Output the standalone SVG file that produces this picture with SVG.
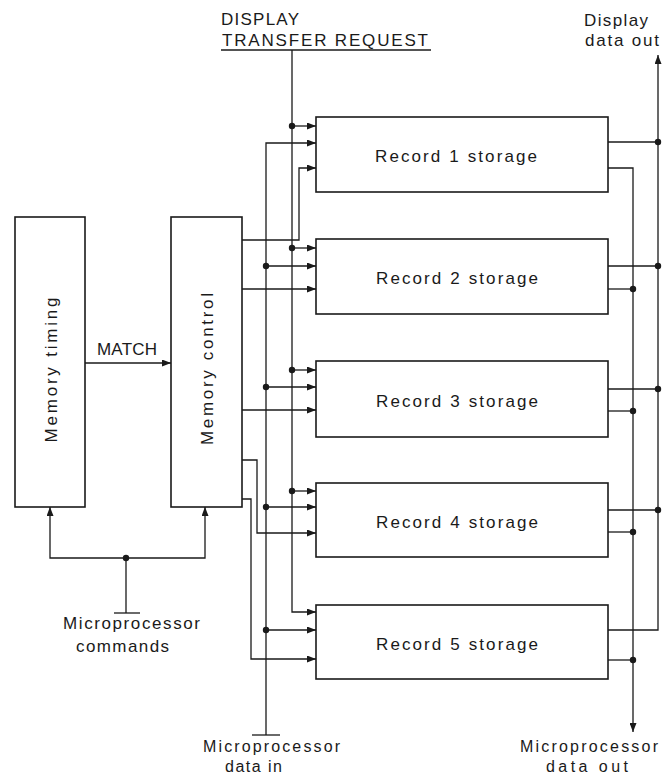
<svg xmlns="http://www.w3.org/2000/svg" width="672" height="776" viewBox="0 0 672 776">
<style>
.box{fill:none;stroke:#1a1a1a;stroke-width:1.6}
.ln{fill:none;stroke:#1a1a1a;stroke-width:1.3}
.dot{fill:#1a1a1a}
text{font-family:"Liberation Sans","DejaVu Sans",sans-serif;fill:#1a1a1a;font-size:17px}
.cap{font-size:17px}
.sm{font-size:16px}
</style>
<defs>
<marker id="arr" viewBox="0 0 9 7" refX="9" refY="3.5" markerWidth="9" markerHeight="7" markerUnits="userSpaceOnUse" orient="auto">
<path d="M0,0 L9,3.5 L0,7 z" fill="#1a1a1a"/>
</marker>
</defs>
<rect width="672" height="776" fill="#ffffff"/>

<g id="memory-timing">
<rect class="box" x="15" y="217" width="70" height="290"/>
<text transform="translate(57,370) rotate(-90)" text-anchor="middle" textLength="145" lengthAdjust="spacing">Memory timing</text>
</g>
<g id="memory-control">
<rect class="box" x="171" y="217" width="71" height="290"/>
<text transform="translate(213,369) rotate(-90)" text-anchor="middle" textLength="152" lengthAdjust="spacing">Memory control</text>
</g>
<g id="record1">
<rect class="box" x="316" y="117" width="292" height="75"/>
<text x="375" y="162" textLength="162" lengthAdjust="spacing">Record 1 storage</text>
</g>
<g id="record2">
<rect class="box" x="316" y="239" width="292" height="75"/>
<text x="376" y="284" textLength="162" lengthAdjust="spacing">Record 2 storage</text>
</g>
<g id="record3">
<rect class="box" x="316" y="361" width="292" height="76"/>
<text x="376" y="407" textLength="162" lengthAdjust="spacing">Record 3 storage</text>
</g>
<g id="record4">
<rect class="box" x="316" y="483" width="292" height="74"/>
<text x="376" y="528" textLength="162" lengthAdjust="spacing">Record 4 storage</text>
</g>
<g id="record5">
<rect class="box" x="316" y="605" width="292" height="74"/>
<text x="376" y="650" textLength="162" lengthAdjust="spacing">Record 5 storage</text>
</g>

<g id="labels">
<text class="cap" x="221" y="25" textLength="78" lengthAdjust="spacing">DISPLAY</text>
<text class="cap" x="222" y="46" textLength="206" lengthAdjust="spacing">TRANSFER REQUEST</text>
<text x="584" y="26" textLength="64" lengthAdjust="spacing">Display</text>
<text x="585" y="46" textLength="74" lengthAdjust="spacing">data out</text>
<text class="cap" x="97" y="355" textLength="60" lengthAdjust="spacing">MATCH</text>
<text x="63" y="629" textLength="137" lengthAdjust="spacing">Microprocessor</text>
<text x="76" y="652" textLength="93" lengthAdjust="spacing">commands</text>
<text class="sm" x="203" y="752" textLength="137" lengthAdjust="spacing">Microprocessor</text>
<text class="sm" x="225" y="772" textLength="57" lengthAdjust="spacing">data in</text>
<text class="sm" x="520" y="752" textLength="138" lengthAdjust="spacing">Microprocessor</text>
<text class="sm" x="546" y="772" textLength="82" lengthAdjust="spacing">data out</text>
</g>

<g id="connectors">
<path class="ln" d="M85,363 H171" marker-end="url(#arr)"/>
<path class="ln" d="M126,613 V558"/>
<path class="ln" d="M114,613 H140"/>
<path class="ln" d="M126,558 H50 V507" marker-end="url(#arr)"/>
<path class="ln" d="M126,558 H205 V507" marker-end="url(#arr)"/>
<circle class="dot" cx="126" cy="558" r="3.2"/>
<path class="ln" d="M221,50 H431"/>
<path class="ln" d="M292,50 V612 H316" marker-end="url(#arr)"/>
<path class="ln" d="M292,126 H316" marker-end="url(#arr)"/>
<path class="ln" d="M292,248 H316" marker-end="url(#arr)"/>
<path class="ln" d="M292,370 H316" marker-end="url(#arr)"/>
<path class="ln" d="M292,491 H316" marker-end="url(#arr)"/>
<circle class="dot" cx="292" cy="126" r="3.2"/>
<circle class="dot" cx="292" cy="248" r="3.2"/>
<circle class="dot" cx="292" cy="370" r="3.2"/>
<circle class="dot" cx="292" cy="491" r="3.2"/>
<path class="ln" d="M266,735 V143 H316" marker-end="url(#arr)"/>
<path class="ln" d="M252,735 H280"/>
<path class="ln" d="M266,266 H316" marker-end="url(#arr)"/>
<path class="ln" d="M266,387 H316" marker-end="url(#arr)"/>
<path class="ln" d="M266,507 H316" marker-end="url(#arr)"/>
<path class="ln" d="M266,630 H316" marker-end="url(#arr)"/>
<circle class="dot" cx="266" cy="266" r="3.2"/>
<circle class="dot" cx="266" cy="387" r="3.2"/>
<circle class="dot" cx="266" cy="507" r="3.2"/>
<circle class="dot" cx="266" cy="630" r="3.2"/>
<path class="ln" d="M242,240 H299 V168 H316" marker-end="url(#arr)"/>
<path class="ln" d="M242,289 H316" marker-end="url(#arr)"/>
<path class="ln" d="M242,410 H316" marker-end="url(#arr)"/>
<path class="ln" d="M242,460 H257 V533 H316" marker-end="url(#arr)"/>
<path class="ln" d="M242,499 H251 V659 H316" marker-end="url(#arr)"/>
<path class="ln" d="M608,630 H658 V55" marker-end="url(#arr)"/>
<path class="ln" d="M608,142 H658"/>
<path class="ln" d="M608,266 H658"/>
<path class="ln" d="M608,389 H658"/>
<path class="ln" d="M608,510 H658"/>
<circle class="dot" cx="658" cy="142" r="3.2"/>
<circle class="dot" cx="658" cy="266" r="3.2"/>
<circle class="dot" cx="658" cy="389" r="3.2"/>
<circle class="dot" cx="658" cy="510" r="3.2"/>
<path class="ln" d="M608,168 H633 V732" marker-end="url(#arr)"/>
<path class="ln" d="M608,289 H633"/>
<path class="ln" d="M608,411 H633"/>
<path class="ln" d="M608,532 H633"/>
<path class="ln" d="M608,660 H633"/>
<circle class="dot" cx="633" cy="289" r="3.2"/>
<circle class="dot" cx="633" cy="411" r="3.2"/>
<circle class="dot" cx="633" cy="532" r="3.2"/>
<circle class="dot" cx="633" cy="660" r="3.2"/>
</g>
</svg>
